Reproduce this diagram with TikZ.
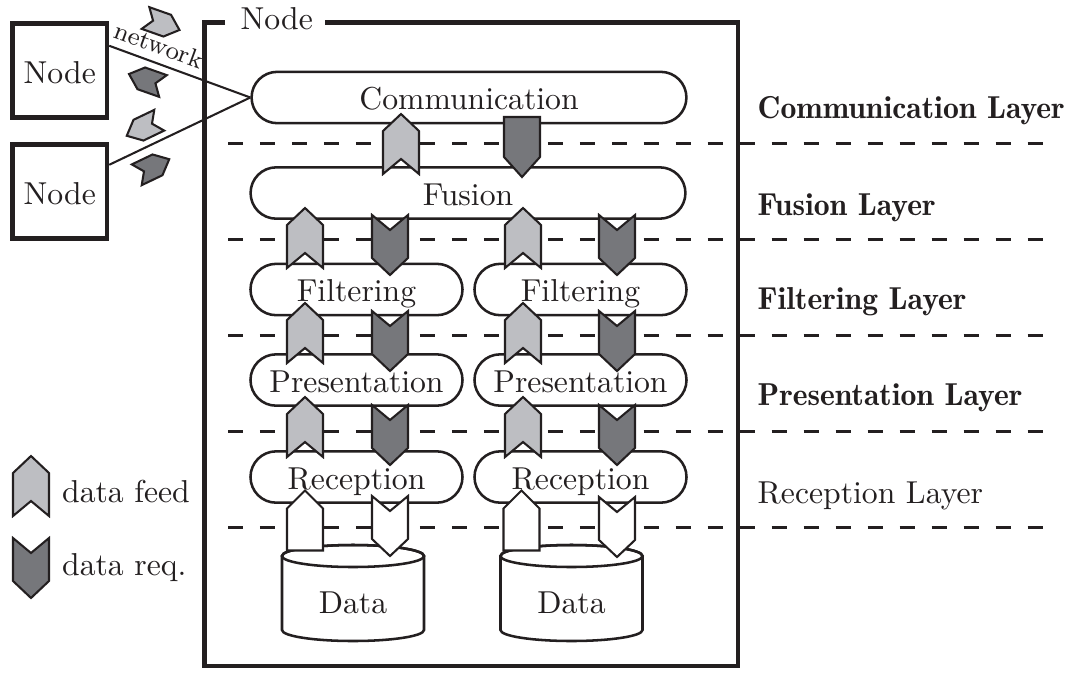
\documentclass[tikz,border=0pt]{standalone}
\usetikzlibrary{calc}
\definecolor{feedgray}{RGB}{189,190,194}
\definecolor{reqgray}{RGB}{118,119,123}
\definecolor{ink}{RGB}{35,31,32}
\begin{document}
\begin{tikzpicture}[x=0.3155pt,y=-0.3155pt,
  every node/.style={text=ink},
  frame/.style={draw=ink, line width=1.42pt, line join=miter},
  boxnode/.style={draw=ink, line width=1.42pt, minimum width=29.8pt, minimum height=29.8pt,
    inner sep=0pt, text height=8pt, text depth=0.1pt},
  pill/.style={draw=ink, fill=white, line width=0.8pt, rounded corners=8.1pt,
    minimum height=16.2pt, inner sep=0pt, text height=8pt, text depth=0.4pt},
  layerline/.style={draw=ink, line width=0.95pt, dash pattern=on 4.73pt off 5.36pt},
  arrowline/.style={draw=ink, line width=0.65pt, line join=miter},
  netline/.style={draw=ink, line width=0.65pt},
  cylline/.style={draw=ink, line width=0.8pt},
  layerlabel/.style={anchor=base west, inner sep=0pt},
  pics/feed/.style={code={\filldraw[arrowline, fill=#1]
    (0,-30) -- (18,-13) -- (18,30) -- (0,15) -- (-18,30) -- (-18,-13) -- cycle;}},
  pics/req/.style={code={\filldraw[arrowline, fill=#1]
    (-18,-30) -- (0,-15) -- (18,-30) -- (18,13) -- (0,30) -- (-18,13) -- cycle;}},
  pics/feedbase/.style={code={\filldraw[arrowline, fill=#1]
    (0,-30) -- (18,-12) -- (18,30) -- (-18,30) -- (-18,-12) -- cycle;}},
  pics/reqtop/.style={code={\filldraw[arrowline, fill=#1]
    (-18,-30) -- (18,-30) -- (18,10) -- (0,30) -- (-18,10) -- cycle;}},
  pics/netarrow/.style={code={\filldraw[arrowline, fill=#1]
    (18,0) -- (5,-11.5) -- (-18,-11.5) -- (-10,0) -- (-18,11.5) -- (5,11.5) -- cycle;}}
]
\useasboundingbox (0,0) rectangle (1072,672);

% layer separators
\foreach \ly in {143.5,239.5,335.5,431,527}
  \draw[layerline] (228,\ly) -- (1044,\ly);

% outer node frame with its title
\node[anchor=base west, inner sep=0pt] (nodetitle) at (240,29) {Node};
\draw[frame] (225,22.5) -- (204.5,22.5) -- (204.5,666) -- (738,666) -- (738,22.5) -- (325,22.5);

% neighbouring nodes
\node[boxnode] (box1) at (59.75,70.5) {Node};
\node[boxnode] (box2) at (59.75,191.5) {Node};

% processing stages
\node[pill, minimum width=137.2pt] (comm) at (469,97.5) {Communication};
\node[pill, minimum width=137.2pt] (fusion) at (468,193) {Fusion};
\node[pill, minimum width=66.9pt] (filtL) at (356.5,289.5) {Filtering};
\node[pill, minimum width=66.9pt] (filtR) at (580.5,289.5) {Filtering};
\node[pill, minimum width=66.9pt] (presL) at (356.5,380) {Presentation};
\node[pill, minimum width=66.9pt] (presR) at (580.5,380) {Presentation};
\node[pill, minimum width=66.9pt] (recL) at (356.5,477) {Reception};
\node[pill, minimum width=66.9pt] (recR) at (580.5,477) {Reception};

% data stores
\foreach \cx/\nm in {353/dataL,571.5/dataR} {
  \filldraw[cylline, fill=white] (\cx-71,556) -- (\cx-71,630)
    arc[start angle=180, end angle=0, x radius=71, y radius=11] -- (\cx+71,556)
    arc[start angle=0, end angle=-180, x radius=71, y radius=11] -- cycle;
  \draw[cylline] (\cx,556) ellipse[x radius=71, y radius=11];
  \node[anchor=base] (\nm) at (\cx,613) {Data};
}

% network links
\draw[netline] ($(box1.north east)!0.25!(box1.south east)$) --
  node[sloped, above, pos=0.31, font=\footnotesize, inner sep=2.5pt] (netlabel) {network} (comm.west);
\draw[netline] ($(box2.north east)!0.23!(box2.south east)$) -- (comm.west);
\pic[rotate=-19.4] at (162.5,24) {netarrow=feedgray};
\pic[rotate=160.6] at (146,80) {netarrow=reqgray};
\pic[rotate=205.6] at (143,128) {netarrow=feedgray};
\pic[rotate=25.6] at (153,167) {netarrow=reqgray};

% flows between stages
\pic at (401,144) {feed=feedgray};
\pic at (522,147) {reqtop=reqgray};
\foreach \fx/\rx in {305/390,523/617} {
  \pic at (\fx,238) {feed=feedgray};
  \pic at (\rx,245) {req=reqgray};
  \pic at (\fx,333) {feed=feedgray};
  \pic at (\rx,341) {req=reqgray};
  \pic at (\fx,427) {feed=feedgray};
  \pic at (\rx,435) {req=reqgray};
}
\pic at (305,520.5) {feedbase=white};
\pic at (390,526) {req=white};
\pic at (521.5,520.5) {feedbase=white};
\pic at (617,527) {req=white};

% layer names
\node[layerlabel, font=\fontseries{b}\selectfont] (lcomm) at (757,118) {Communication Layer};
\node[layerlabel, font=\fontseries{b}\selectfont] (lfus) at (757,215) {Fusion Layer};
\node[layerlabel, font=\fontseries{b}\selectfont] (lfilt) at (757,309) {Filtering Layer};
\node[layerlabel, font=\fontseries{b}\selectfont] (lpres) at (757,405) {Presentation Layer};
\node[layerlabel] (lrec) at (757,503) {Reception Layer};

% legend
\pic at (31,486) {feed=feedgray};
\pic at (31,568) {req=reqgray};
\node[anchor=base west, inner sep=0pt] (legfeed) at (61.5,502) {data feed};
\node[anchor=base west, inner sep=0pt] (legreq) at (61.5,575) {data req.};
\end{tikzpicture}
\end{document}
